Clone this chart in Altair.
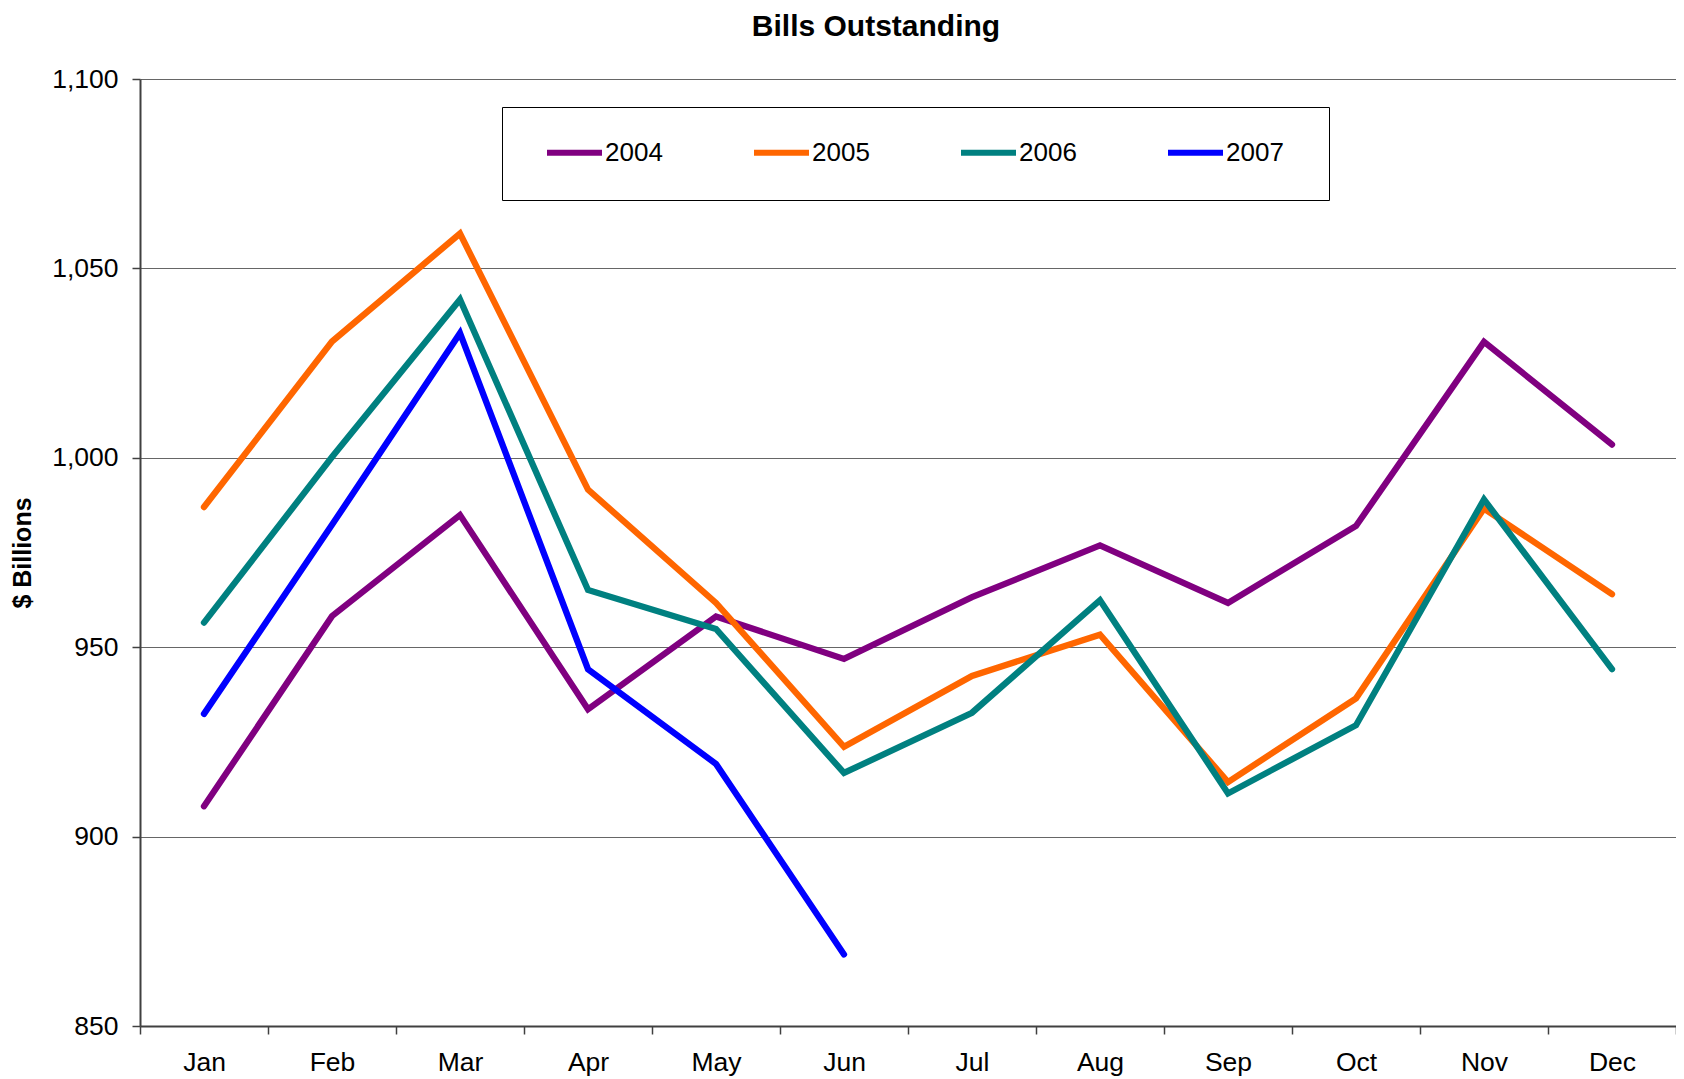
import altair as alt
import pandas as pd

months = ["Jan", "Feb", "Mar", "Apr", "May", "Jun", "Jul", "Aug", "Sep", "Oct", "Nov", "Dec"]
years = ["2004", "2005", "2006", "2007"]
colors = ["#800080", "#FF6600", "#008080", "#0000FF"]

v2004 = [908.0, 958.2, 984.9, 933.6, 958.1, 946.9, 963.2, 976.9, 961.7, 982.0, 1030.6, 1003.5]
v2005 = [987.0, 1030.7, 1059.2, 991.6, 961.7, 923.7, 942.4, 953.3, 914.4, 936.5, 986.6, 964.0]
v2006 = [956.5, 1000.2, 1041.8, 965.1, 954.8, 916.8, 932.7, 962.4, 911.4, 929.4, 989.0, 944.2]
v2007 = [932.4, 982.3, 1032.9, 944.2, 919.2, 868.9]

y_ticks = [850, 900, 950, 1000, 1050, 1100]

rows = []
for yr, vals in zip(years, [v2004, v2005, v2006, v2007]):
    for i, v in enumerate(vals):
        rows.append({"month": months[i], "year": yr, "value": v, "idx": i})
df = pd.DataFrame(rows)

FONT = "Liberation Sans"
AX = "#404040"

chart = alt.Chart(df).mark_line(strokeWidth=6.3, strokeCap="round").encode(
    x=alt.X(
        "month:N",
        sort=months,
        scale=alt.Scale(type="band", paddingInner=0, paddingOuter=0),
        axis=alt.Axis(
            title=None, tickBand="extent", labelAngle=0, labelFont=FONT, labelFontSize=26.5,
            labelColor="black", labelPadding=15, tickSize=8, tickColor=AX, tickWidth=1.5,
            domainColor=AX, domainWidth=2, grid=False,
        ),
    ),
    y=alt.Y(
        "value:Q",
        scale=alt.Scale(domain=[850, 1100], nice=False, zero=False),
        axis=alt.Axis(
            title="$ Billions", values=y_ticks, format=",d", labelFont=FONT, labelFontSize=26.5,
            labelColor="black", labelPadding=14, tickSize=8, tickColor=AX, tickWidth=1.5,
            domainColor=AX, domainWidth=2, grid=True, gridColor="#666666", gridWidth=1.2,
            titleFont=FONT, titleFontSize=25, titleFontWeight="bold", titleColor="black",
            titleX=-118, titleY=473.5, titleAlign="center", titleBaseline="middle", titleAngle=270,
        ),
    ),
    color=alt.Color(
        "year:N",
        scale=alt.Scale(domain=years, range=colors),
        legend=alt.Legend(
            title="\u00a0", titleOrient="right", titleFontSize=1, titlePadding=11,
            orient="none", legendX=362, legendY=28, direction="horizontal",
            symbolType="stroke", symbolSize=3025, symbolStrokeWidth=6, symbolOffset=8,
            labelFont=FONT, labelFontSize=26, labelColor="black", labelOffset=0,
            columnPadding=80, padding=34, clipHeight=23, strokeColor="black", fillColor="white",
        ),
    ),
    order=alt.Order("idx:Q"),
).properties(
    width=1536,
    height=947,
    padding={"left": 132, "top": 71, "right": 0, "bottom": 53},
    autosize="none",
    title=alt.TitleParams(
        "Bills Outstanding", font=FONT, fontSize=30, fontWeight="bold", color="black",
        anchor="middle", dx=-32, offset=24,
    ),
).configure_view(stroke=None)

chart.save("out.html", embed_options={"renderer": "svg", "actions": False})
